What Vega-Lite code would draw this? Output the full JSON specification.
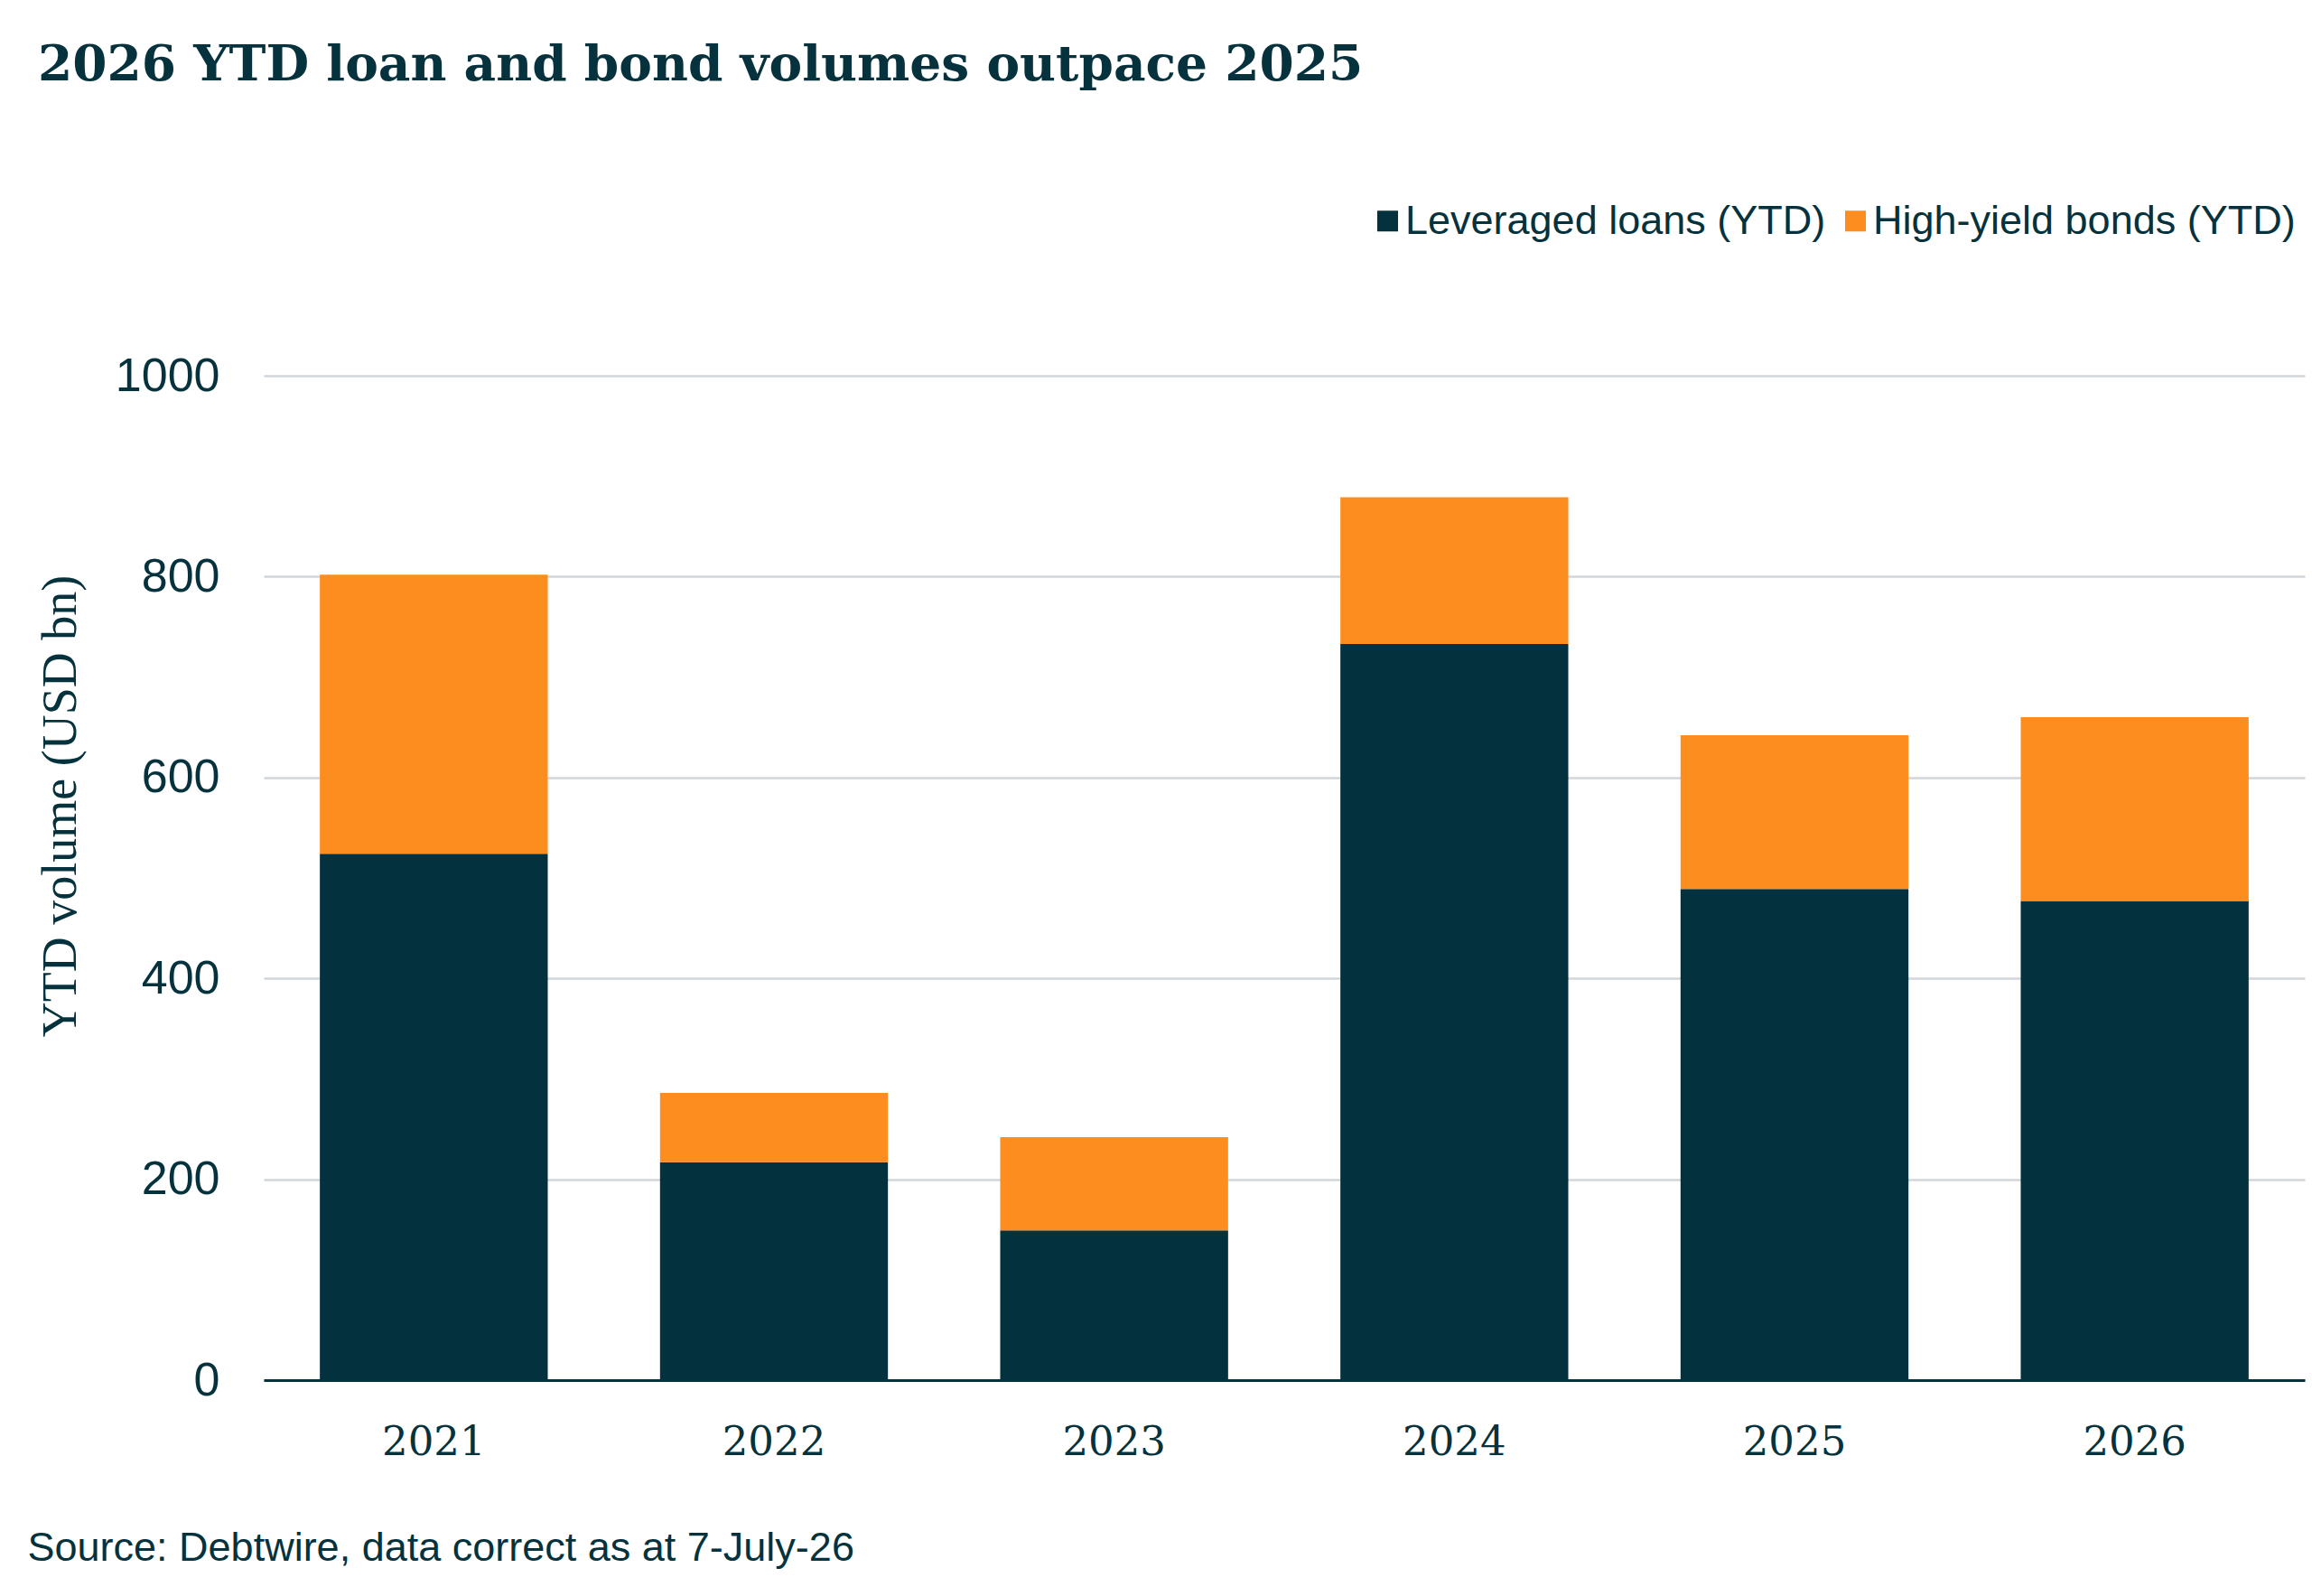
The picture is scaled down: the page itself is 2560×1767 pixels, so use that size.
{
  "$schema": "https://vega.github.io/schema/vega-lite/v6.json",
  "width": 2260,
  "height": 1112,
  "autosize": {"type": "none"},
  "padding": {"left": 292, "top": 416, "right": 8, "bottom": 239},
  "background": "white",
  "title": {
    "text": "2026 YTD loan and bond volumes outpace 2025",
    "anchor": "start",
    "frame": "group",
    "font": "DejaVu Serif",
    "fontWeight": "bold",
    "fontSize": 55,
    "color": "#06323e",
    "baseline": "alphabetic",
    "dx": -250,
    "offset": 78
  },
  "data": {
    "values": [
      {"year": "2021", "series": "Leveraged loans (YTD)", "value": 524},
      {"year": "2021", "series": "High-yield bonds (YTD)", "value": 278},
      {"year": "2022", "series": "Leveraged loans (YTD)", "value": 217},
      {"year": "2022", "series": "High-yield bonds (YTD)", "value": 69},
      {"year": "2023", "series": "Leveraged loans (YTD)", "value": 149},
      {"year": "2023", "series": "High-yield bonds (YTD)", "value": 93},
      {"year": "2024", "series": "Leveraged loans (YTD)", "value": 733},
      {"year": "2024", "series": "High-yield bonds (YTD)", "value": 146},
      {"year": "2025", "series": "Leveraged loans (YTD)", "value": 489},
      {"year": "2025", "series": "High-yield bonds (YTD)", "value": 153},
      {"year": "2026", "series": "Leveraged loans (YTD)", "value": 477},
      {"year": "2026", "series": "High-yield bonds (YTD)", "value": 183}
    ]
  },
  "mark": {"type": "bar"},
  "encoding": {
    "x": {
      "field": "year",
      "type": "ordinal",
      "scale": {"paddingInner": 0.33, "paddingOuter": 0.165},
      "axis": {
        "title": "Source: Debtwire, data correct as at 7-July-26",
        "titleFont": "Liberation Sans",
        "titleFontSize": 45,
        "titleFontWeight": "normal",
        "titleColor": "#06323e",
        "titleX": -262,
        "titleY": 199,
        "titleAlign": "left",
        "titleAnchor": "start",
        "titleBaseline": "alphabetic",
        "labelAngle": 0,
        "labelFont": "DejaVu Serif",
        "labelFontSize": 45,
        "labelColor": "#06323e",
        "labelBaseline": "alphabetic",
        "labelPadding": 82,
        "ticks": false,
        "tickSize": 0,
        "domainColor": "#06323e",
        "domainWidth": 3,
        "grid": false
      }
    },
    "y": {
      "field": "value",
      "type": "quantitative",
      "stack": "zero",
      "scale": {"domain": [0, 1000], "nice": false},
      "axis": {
        "title": "YTD volume (USD bn)",
        "titleFont": "Liberation Serif",
        "titleFontSize": 54,
        "titleFontWeight": "normal",
        "titleColor": "#06323e",
        "titleX": -225,
        "titleY": 476,
        "titleAngle": 270,
        "titleAlign": "center",
        "titleBaseline": "middle",
        "values": [0, 200, 400, 600, 800, 1000],
        "format": "d",
        "labelFont": "Liberation Sans",
        "labelFontSize": 52,
        "labelColor": "#06323e",
        "labelPadding": 49,
        "ticks": false,
        "tickSize": 0,
        "domain": false,
        "grid": true,
        "gridColor": "#d0d6da",
        "gridWidth": 2.5
      }
    },
    "color": {
      "field": "series",
      "type": "nominal",
      "scale": {
        "domain": ["Leveraged loans (YTD)", "High-yield bonds (YTD)"],
        "range": ["#03323e", "#fe8d1f"]
      },
      "legend": {
        "title": null,
        "orient": "none",
        "direction": "horizontal",
        "legendX": 1222,
        "legendY": -194,
        "padding": 0,
        "symbolType": "square",
        "symbolSize": 529,
        "symbolStrokeWidth": 0,
        "labelFont": "Liberation Sans",
        "labelFontSize": 45,
        "labelColor": "#06323e",
        "labelOffset": -3,
        "columnPadding": 10,
        "labelLimit": 1000
      }
    },
    "order": {"field": "series", "sort": "descending"}
  },
  "config": {
    "view": {"stroke": null}
  }
}
